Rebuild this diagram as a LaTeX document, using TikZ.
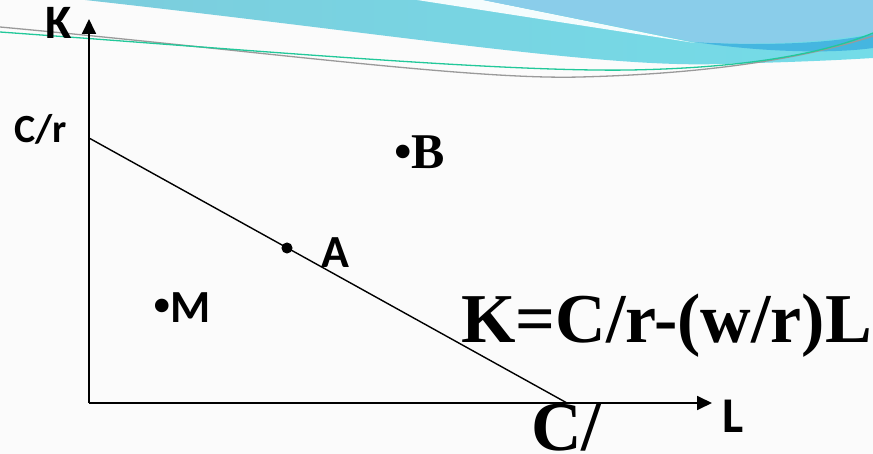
\documentclass[tikz,border=0pt]{standalone}
\usepackage{fontspec}
\setmainfont{Liberation Serif}
\newfontfamily\lblfont{Carlito}
\usetikzlibrary{arrows.meta}
\definecolor{bgc}{HTML}{FBFBFB}
\definecolor{cyanband}{HTML}{74DCE8}
\definecolor{cyanleft}{HTML}{7CCDDD}
\definecolor{skyblue}{HTML}{8ACDEA}
\definecolor{deepblue}{HTML}{45B6E0}
\definecolor{greenline}{HTML}{22C89A}
\definecolor{greyline}{HTML}{9A9A9A}
\tikzset{
  lbl/.style={font=\lblfont\bfseries\fontsize{46}{46}\selectfont, inner sep=0pt, anchor=base west},
  serif/.style={font=\bfseries\fontsize{70}{70}\selectfont, inner sep=0pt, anchor=base west},
  axis/.style={line width=1.8pt, -{Triangle[length=15pt,width=14pt]}},
  budget/.style={line width=1.4pt},
  pt/.style={circle, fill=black, draw=black, line width=1pt, inner sep=0pt, minimum size=10pt}
}
\begin{document}
\begin{tikzpicture}[x=1pt,y=-1pt]
\useasboundingbox (0,0) rectangle (873,454);
\begin{scope}
\clip (0,0) rectangle (873,454);
\fill[bgc] (0,0) rectangle (873,454);
% decorative top waves
\shade[left color=cyanleft, right color=cyanband] (85,0) .. controls (400,35) and (600,68) .. (720,64) .. controls (800,62) and (840,60) .. (873,58) -- (873,0) -- cycle;
\fill[deepblue] (695,42) .. controls (760,46) and (830,44) .. (873,34) -- (873,48) .. controls (830,54) and (760,52) .. (695,42) -- cycle;
\fill[white!92!cyanband] (417,0) -- (695,43) -- (483,0) -- cycle;
\fill[skyblue] (483,0) -- (695,42) .. controls (760,46) and (830,42) .. (873,33) -- (873,0) -- cycle;
\draw[greyline, line width=1.3pt] (0,27) .. controls (250,50) and (470,80) .. (580,77) .. controls (700,74) and (800,60) .. (873,36);
\draw[greenline, line width=1.3pt] (0,32) .. controls (250,50) and (500,72) .. (630,70) .. controls (740,68) and (820,55) .. (873,33);
\end{scope}
% axes
\coordinate (O) at (89,403);
\coordinate (Ktip) at (89,19);
\coordinate (Ltip) at (712,403);
\coordinate (Cr) at (89,138);
\coordinate (Cw) at (567,403);
\draw[axis] (O) -- (Ktip);
\draw[axis] (O) -- (Ltip);
\draw[budget] (Cr) -- (Cw);
\node[pt] (Adot) at (287,248) {};
% labels
\node[lbl, font=\lblfont\bfseries\fontsize{48}{48}\selectfont] (Klbl) at (45,39) {K};
\node[lbl, font=\lblfont\bfseries\fontsize{40}{40}\selectfont] (Crlbl) at (14,143) {C/r};
\node[lbl, font=\lblfont\bfseries\fontsize{50}{50}\selectfont] (Llbl) at (722,432) {L};
\node[lbl] (Albl) at (321,268) {A};
\node[lbl] (Mlbl) at (153,323) {{\rmfamily\fontsize{50}{50}\selectfont •}M};
\node[serif, font=\bfseries\fontsize{50}{50}\selectfont] (Blbl) at (394,169) {•B};
\node[serif] (eq) at (461,343) {K=C/r-(w/r)L};
\node[serif] (Cw lbl) at (531,450) {C/};
\end{tikzpicture}
\end{document}
